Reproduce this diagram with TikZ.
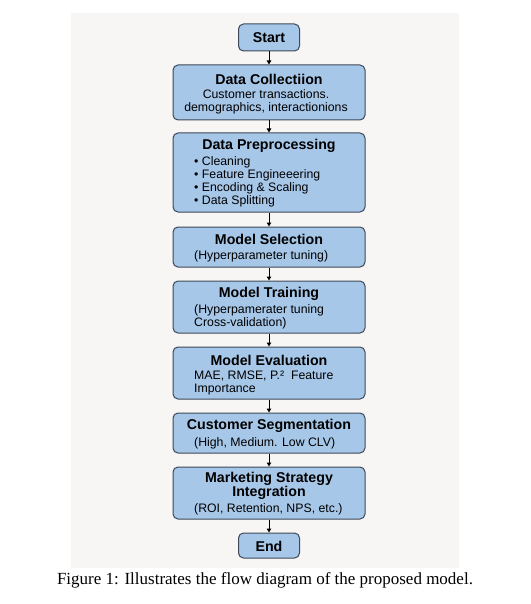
\documentclass[tikz,border=0pt]{standalone}
\usepackage{fontspec}
\setmainfont{Liberation Serif}
\newfontfamily\boxfont{Liberation Sans}
\usetikzlibrary{arrows.meta}
\definecolor{boxfill}{RGB}{167,199,233}
\definecolor{boxline}{RGB}{62,72,86}
\definecolor{panelgrey}{RGB}{247,246,245}
\newcommand{\stagewidth}{192pt}
\newcommand{\subleft}{194}
\tikzset{
  stagebox/.style={draw=boxline, fill=boxfill, line width=1pt, rounded corners=5pt,
    minimum width=\stagewidth, inner sep=0pt},
  termbox/.style={stagebox, minimum width=61pt},
  stagetitle/.style={font=\boxfont\bfseries\fontsize{14.2}{16}\selectfont, inner sep=0pt, align=center},
  stagetext/.style={font=\boxfont\fontsize{12.3}{13}\selectfont, inner sep=0pt, align=left, anchor=west},
  flow/.style={-{Triangle[length=4pt,width=4.5pt]}, line width=1pt, black}
}
\begin{document}
\begin{tikzpicture}[x=1pt, y=-1pt]
	% Page and grey panel
	\useasboundingbox (0,0) rectangle (530,604);
	\fill[white] (0,0) rectangle (530,604);
	\fill[panelgrey] (71,13) rectangle (459,568);
	% Define the boxes
	\node [termbox, minimum height=27pt] (start) at (269,37.5) {};
	\node [stagebox, minimum height=55pt] (collect) at (269,92.5) {};
	\node [stagebox, minimum height=79pt] (prep) at (269,172.5) {};
	\node [stagebox, minimum height=40pt] (select) at (269,247) {};
	\node [stagebox, minimum height=52pt] (train) at (269,307) {};
	\node [stagebox, minimum height=52pt] (eval) at (269,373) {};
	\node [stagebox, minimum height=40pt] (segment) at (269,433) {};
	\node [stagebox, minimum height=52pt] (market) at (269,493) {};
	\node [termbox, minimum height=25pt] (end) at (269,545.5) {};
	% Titles
	\node [stagetitle] (starttitle) at (269,38) {Start};
	\node [stagetitle] (collecttitle) at (269,79) {Data Collectiion};
	\node [stagetitle] (preptitle) at (269,146) {Data Preprocessing};
	\node [stagetitle] (selecttitle) at (269,239) {Model Selection};
	\node [stagetitle] (traintitle) at (269,294) {Model Training};
	\node [stagetitle] (evaltitle) at (269,360) {Model Evaluation};
	\node [stagetitle] (segmenttitle) at (269,426) {Customer Segmentation};
	\node [stagetitle, font=\boxfont\bfseries\fontsize{14.2}{14}\selectfont] (markettitle) at (269,486) {Marketing Strategy\\Integration};
	\node [stagetitle] (endtitle) at (269,546) {End};
	% Texts under the titles
	\node [stagetext, anchor=center, align=center] (collecttext) at (266,101.5) {Customer transactions.\\demographics, interactionions};
	\node [stagetext] (preptext) at (\subleft,181.5) {\textbullet\ Cleaning\\\textbullet\ Feature Engineeering\\\textbullet\ Encoding \& Scaling\\\textbullet\ Data Splitting};
	\node [stagetext] (selecttext) at (\subleft,256) {(Hyperparameter tuning)};
	\node [stagetext] (traintext) at (\subleft,316.5) {(Hyperpamerater tuning\\Cross-validation)};
	\node [stagetext] (evaltext) at (\subleft,382.5) {MAE, RMSE, P.² \ Feature\\Importance};
	\node [stagetext] (segmenttext) at (\subleft,443) {(High, Medium. Low CLV)};
	\node [stagetext] (markettext) at (\subleft,509) {(ROI, Retention, NPS, etc.)};
	% Draw the arrows
	\draw [flow] (start) -- (collect);
	\draw [flow] (collect) -- (prep);
	\draw [flow] (prep) -- (select);
	\draw [flow] (select) -- (train);
	\draw [flow] (train) -- (eval);
	\draw [flow] (eval) -- (segment);
	\draw [flow] (segment) -- (market);
	\draw [flow] (market) -- (end);
	% Caption
	\node [font=\fontsize{17}{20}\selectfont, inner sep=0pt] (caption) at (265,580) {Figure 1: Illustrates the flow diagram of the proposed model.};
\end{tikzpicture}
\end{document}
